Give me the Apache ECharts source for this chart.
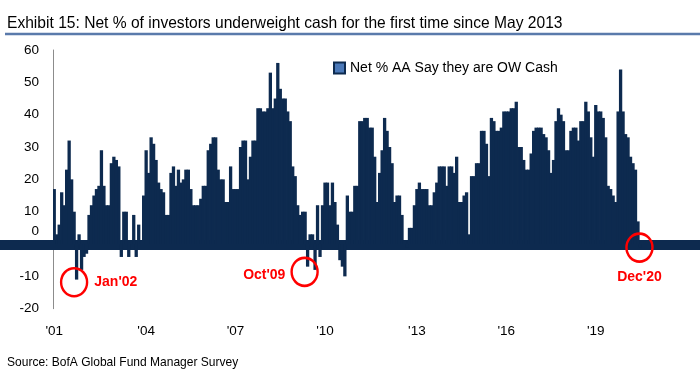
<!DOCTYPE html>
<html>
<head>
<meta charset="utf-8">
<script src="https://cdn.jsdelivr.net/npm/echarts@6/dist/echarts.min.js"></script>
<style>
html,body{margin:0;padding:0;background:#fff;}
#chart{width:700px;height:375px;}
</style>
</head>
<body>
<div id="chart"></div>
<script>
// Monthly survey values, Apr 2001 .. Dec 2020 (net % saying they are overweight cash)
const cash2001_2004 = [17, 3, 6, 16, 12, 23, 32, 20, 10, -11, 3, -8, -4, -3, 9, 12, 15, 17, 18, 29,
  18, 12, 12, 25, 27, 26, 24, -4, 10, 10, -4, 0, 9, -4, 6, 1, 15, 29];
const cash2004_2007 = [22, 33, 31, 26, 19, 17, 16, 9, 9, 22, 24, 18, 23, 19, 20, 23, 23, 17, 12, 12,
  12, 14, 18, 18, 29, 31, 33, 33, 23, 20, 20, 13, 13, 24, 17, 17, 17, 30, 32, 32];
const cash2007_2010 = [20, 27, 32, 32, 42, 42, 41, 41, 42, 53, 42, 45, 56, 48, 45, 45, 41, 38, 24, 21,
  12, 9, 10, 10, -7, 3, 3, -8, 12, -4, 12, 19, 19, 12, 19, 13, 6, -5, -7];
const cash2010_2014 = [-10, 15, 10, 10, 18, 18, 38, 38, 39, 39, 36, 36, 27, 13, 22, 29, 39, 35, 30, 25,
  13, 15, 15, 9, 1, -1, 5, 5, 12, 17, 19, 17, 17, 17, 12, 12, 16, 19, 24];
const cash2014_2017 = [24, 24, 18, 24, 24, 22, 27, 13, 13, 15, 16, 3, 21, 21, 25, 25, 35, 35, 31, 21,
  39, 38, 35, 35, 36, 41, 41, 41, 42, 42, 44, 30, 30, 26, 23, 23, 28, 35, 36, 36];
const cash2017_2020 = [36, 34, 33, 29, 22, 26, 38, 42, 40, 38, 29, 29, 35, 36, 36, 32, 38, 38, 44, 41,
  33, 27, 43, 41, 41, 39, 33, 18, 17, 15, 13, 41, 54, 41, 34, 33, 27, 25, 23, 7, -1];

const xTickLabels = ["'01", "'04", "'07", "'10", "'13", "'16", "'19"];
const xTickIndex = [0, 37, 73, 109, 146, 182, 218];
const yTicks = { min: -20, max: 60, step: 10 };
const seriesName = 'Net % AA Say they are OW Cash';
const titleText = 'Exhibit 15: Net % of investors underweight cash for the first time since May 2013';
const sourceText = 'Source: BofA Global Fund Manager Survey';

// annotation anchors: category, value near the bar tip, label
const callouts = [
  { month: 'Jan-02', value: -11.8, text: "Jan'02" },
  { month: 'Oct-09', value: -8.6, text: "Oct'09" },
  { month: 'Dec-20', value: -1.1, text: "Dec'20" }
];

const cashValues = [].concat(cash2001_2004, cash2004_2007, cash2007_2010, cash2010_2014, cash2014_2017, cash2017_2020);
const monNames = ['Jan','Feb','Mar','Apr','May','Jun','Jul','Aug','Sep','Oct','Nov','Dec'];
const months = [];
for (let y = 2001; y <= 2020; y++) {
  for (let m = 0; m < 12; m++) {
    if (y === 2001 && m < 3) continue;
    months.push(monNames[m] + '-' + String(y).slice(2));
  }
}

const NAVY = '#0d2a4f';
const FONT = 'Liberation Sans, Arial, sans-serif';
const barPx = 2.484;
const gridLeft = 53;
const gridRight = 700 - gridLeft - barPx * months.length;

const chart = echarts.init(document.getElementById('chart'), null, { renderer: 'canvas' });

const calloutStyle = [
  { symbolOffset: [-2.5, 0], label: { position: 'right', distance: 6 } },
  { symbolOffset: [-3, 0], label: { position: 'left', distance: 5, offset: [0, 3] } },
  { symbolOffset: [-1, 0], label: { position: 'bottom', distance: 7 } }
];

const staticGraphics = [
  { type: 'text', x: 7, y: 14.5, scaleX: 0.945, z: 5,
    style: { text: titleText, x: 0, y: 0, font: '16.5px Liberation Sans, Arial, sans-serif', fill: '#000', verticalAlign: 'top', align: 'left' } },
  { type: 'line', shape: { x1: 5, y1: 34, x2: 700, y2: 34 }, style: { stroke: '#5a7aab', lineWidth: 2.5 } },
  { type: 'text', x: 7, y: 356, scaleX: 0.925, z: 5,
    style: { text: sourceText, x: 0, y: 0, font: '13px Liberation Sans, Arial, sans-serif', fill: '#000', verticalAlign: 'top', align: 'left' } }
];

const option = {
  animation: false,
  backgroundColor: '#ffffff',
  legend: {
    left: 333, top: 61, padding: 0,
    itemWidth: 11, itemHeight: 11,
    icon: 'rect',
    itemStyle: { color: '#4a78b8', borderColor: NAVY, borderWidth: 2 },
    textStyle: { fontFamily: FONT, fontSize: 14, color: '#000' },
    data: [seriesName]
  },
  grid: { left: gridLeft, right: gridRight, top: 50, bottom: 66.3, containLabel: false },
  xAxis: {
    type: 'category',
    data: months,
    boundaryGap: true,
    axisLine: { show: false, onZero: false },
    axisTick: { show: false },
    splitLine: { show: false },
    axisLabel: {
      interval: function (idx) { return xTickIndex.indexOf(idx) >= 0; },
      formatter: function (val) {
        const k = xTickIndex.indexOf(months.indexOf(val));
        return k >= 0 ? xTickLabels[k] : '';
      },
      fontFamily: FONT, fontSize: 13.5, color: '#000', margin: 16
    }
  },
  yAxis: {
    type: 'value',
    min: yTicks.min, max: yTicks.max, interval: yTicks.step,
    axisLine: { show: true, lineStyle: { color: '#8c8c8c', width: 1 } },
    axisTick: { show: false },
    splitLine: { show: false },
    axisLabel: {
      fontFamily: FONT, fontSize: 13.5, color: '#000', margin: 14,
      formatter: function (v) { return v === 0 ? '{z|0}' : String(v); },
      rich: { z: { fontFamily: FONT, fontSize: 13.5, color: '#000', padding: [0, 0, 26, 0] } }
    }
  },
  series: [{
    name: seriesName,
    type: 'bar',
    data: cashValues,
    barWidth: 3.3,
    itemStyle: { color: NAVY },
    markPoint: {
      symbol: 'circle',
      symbolSize: [26, 28],
      itemStyle: { color: 'rgba(0,0,0,0)', borderColor: '#ff0000', borderWidth: 2.5 },
      label: { show: true, color: '#ff0000', fontWeight: 'bold', fontSize: 14, fontFamily: FONT },
      data: callouts.map(function (c, i) {
        return {
          name: c.text,
          coord: [c.month, c.value],
          symbolOffset: calloutStyle[i].symbolOffset,
          label: Object.assign({ formatter: c.text }, calloutStyle[i].label)
        };
      })
    }
  }],
  graphic: staticGraphics
};

chart.setOption(option);
const y0 = chart.convertToPixel({ yAxisIndex: 0 }, 0);
chart.setOption({
  graphic: staticGraphics.concat([
    { type: 'rect', z: 1, shape: { x: 0, y: y0 - 4, width: 700, height: 10 }, style: { fill: NAVY } }
  ])
});
</script>
</body>
</html>
